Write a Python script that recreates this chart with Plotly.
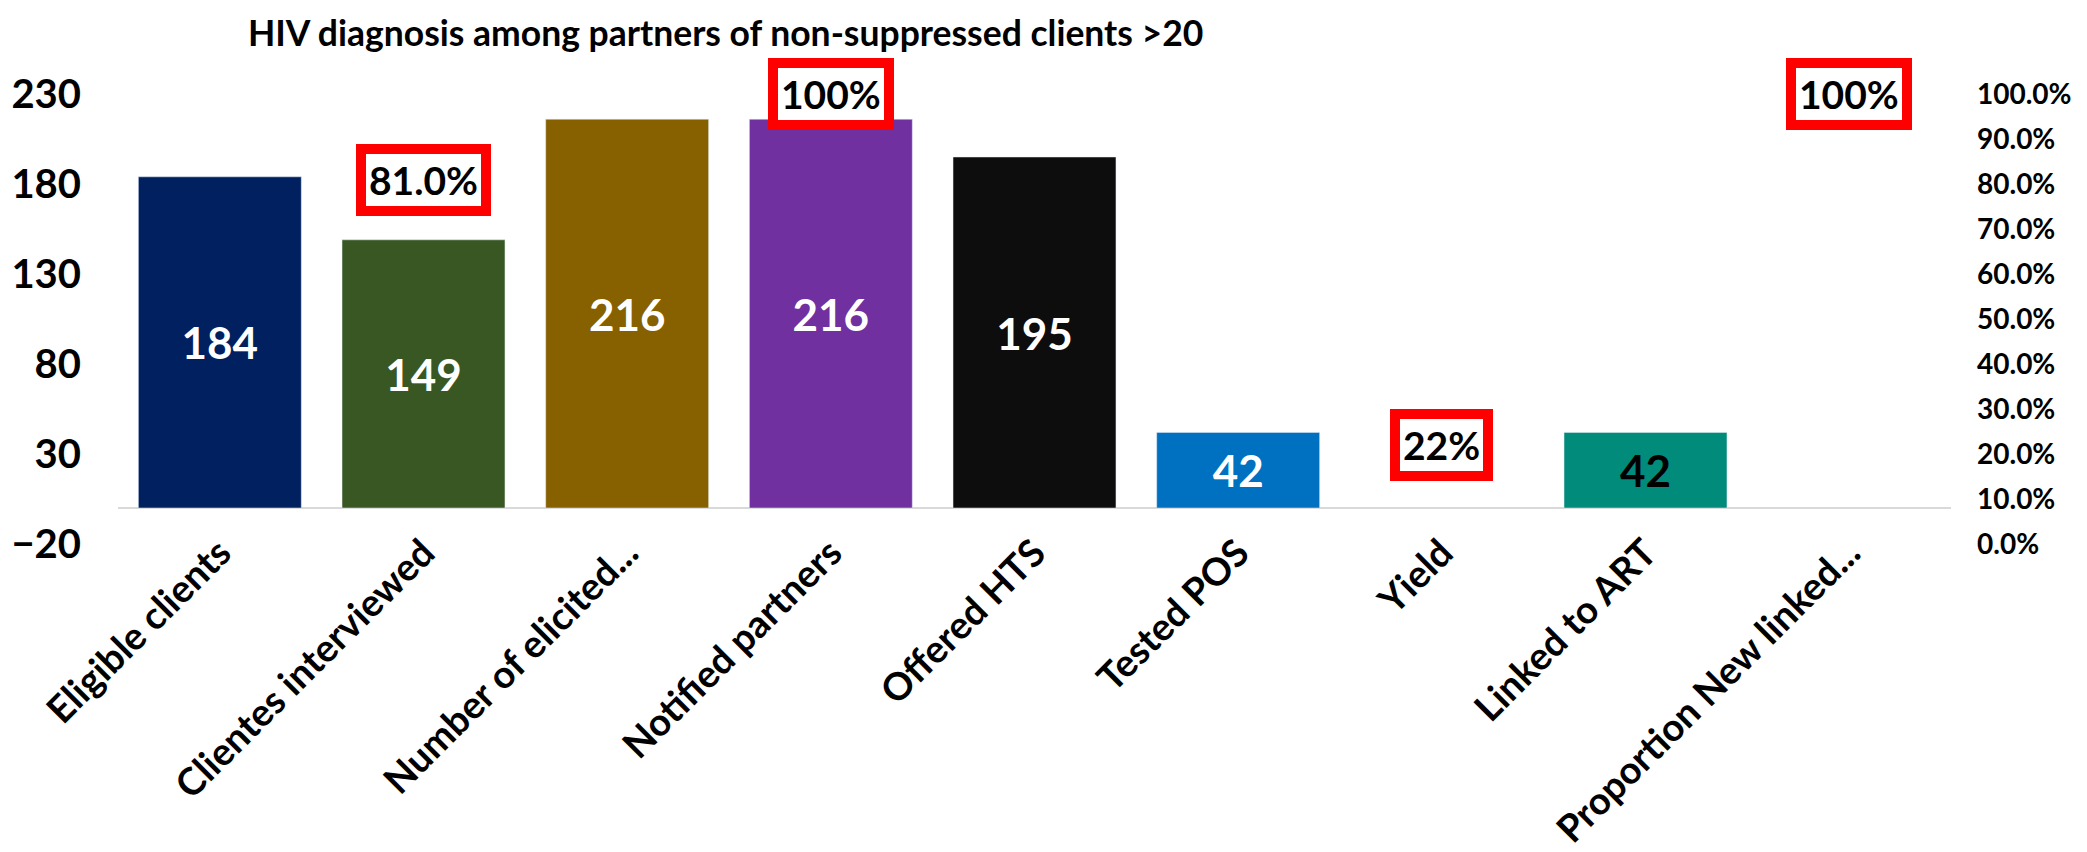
import plotly.graph_objects as go

# Cascade stages on the x axis
stages = ["Eligible clients", "Clientes interviewed", "Number of elicited...",
          "Notified partners", "Offered HTS", "Tested POS", "Yield",
          "Linked to ART", "Proportion New linked..."]

# Counts (bars, left axis)
counts = [184, 149, 216, 216, 195, 42, None, 42, None]

# Rates (boxed labels, right axis)
rates = [None, 0.81, None, 1.00, None, None, 0.22, None, 1.00]
rate_labels = ["", "81.0%", "", "100%", "", "", "22%", "", "100%"]

bar_colors = ["#002060", "#385723", "#876000", "#7030A0", "#0D0D0D",
              "#0070C0", "#0070C0", "#008B7A", "#008B7A"]
text_colors = ["white"] * 7 + ["black", "black"]

font = "Lato, Open Sans, sans-serif"

fig = go.Figure()

fig.add_trace(go.Bar(
    x=stages, y=counts,
    marker_color=bar_colors,
    text=[str(c) if c is not None else "" for c in counts],
    textposition="inside", insidetextanchor="middle",
    textfont=dict(family=font, size=44, color=text_colors, weight="bold"),
    showlegend=False,
))

# invisible series so the right axis is drawn
fig.add_trace(go.Scatter(
    x=stages, y=rates, yaxis="y2", mode="markers",
    marker=dict(opacity=0), showlegend=False, hoverinfo="skip",
))

# boxed percentage labels
for stage, r, lab in zip(stages, rates, rate_labels):
    if r is None:
        continue
    fig.add_annotation(
        x=stage, y=r, yref="y2", text=lab, showarrow=False,
        font=dict(family=font, size=39, color="black", weight="bold"),
        bgcolor="white", bordercolor="#FF0000", borderwidth=10, borderpad=3,
    )

# page body adds an 8px offset, so the figure is a bit smaller than the window
fig.update_layout(
    width=2079, height=844,
    margin=dict(l=110, r=136, t=86, b=308),
    paper_bgcolor="white", plot_bgcolor="white",
    bargap=0.2,
    title=dict(
        text="HIV diagnosis among partners of non-suppressed clients >20",
        x=0.3452, xanchor="center", y=0.984, yanchor="top",
        font=dict(family=font, size=35.5, color="black", weight="bold"),
    ),
    xaxis=dict(
        tickangle=-45, automargin=False, showgrid=False, ticklabelstandoff=-22,
        tickfont=dict(family=font, size=38, color="black", weight="bold"),
    ),
    yaxis=dict(
        range=[-20, 230], dtick=50, tick0=-20, showgrid=False,
        zeroline=True, zerolinecolor="#D9D9D9", zerolinewidth=2,
        automargin=False, ticklabelstandoff=36,
        tickfont=dict(family=font, size=40, color="black", weight="bold"),
    ),
    yaxis2=dict(
        range=[0, 1], dtick=0.1, tickformat=".1%", overlaying="y", side="right",
        showgrid=False, zeroline=False, automargin=False, ticklabelstandoff=25,
        tickfont=dict(family=font, size=28, color="black", weight="bold"),
    ),
)

fig.write_html("out.html")
